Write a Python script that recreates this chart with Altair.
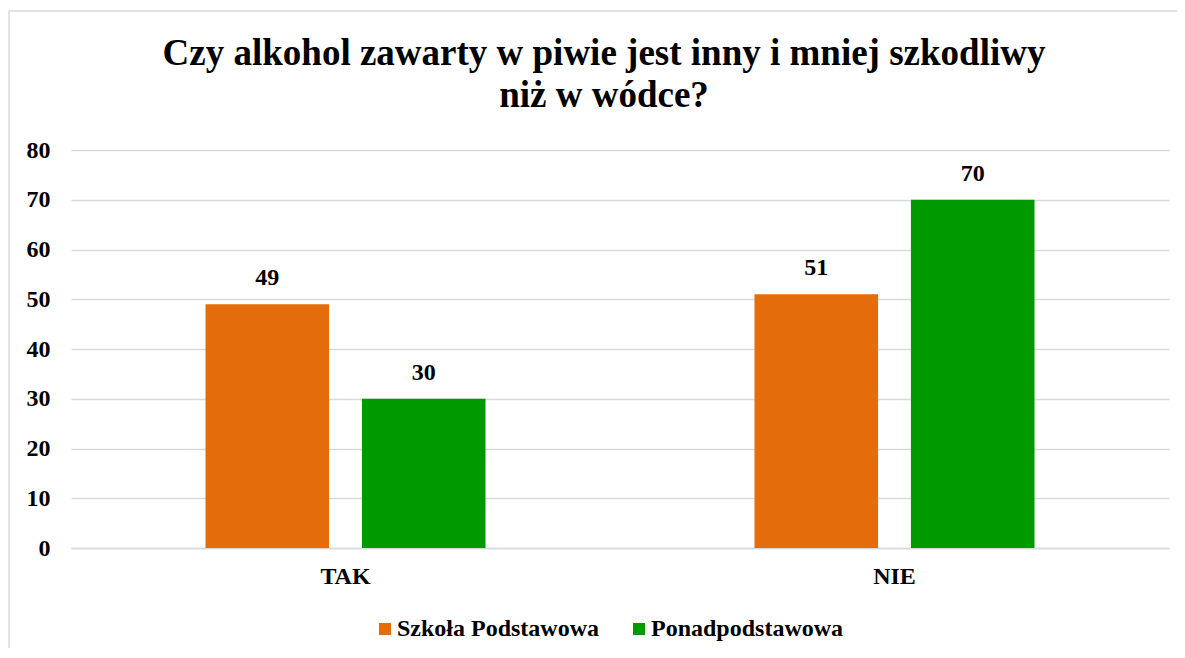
import altair as alt
import pandas as pd

categories = ["TAK", "NIE"]
series = ["Szkoła Podstawowa", "Ponadpodstawowa"]
values_sp = [49, 51]
values_pp = [30, 70]
colors = ["#E46C0A", "#009900"]
y_ticks = [0, 10, 20, 30, 40, 50, 60, 70, 80]
title_lines = ["Czy alkohol zawarty w piwie jest inny i mniej szkodliwy", "niż w wódce?"]

rows = []
for i, c in enumerate(categories):
    rows.append({"odp": c, "grupa": series[0], "wartosc": values_sp[i]})
    rows.append({"odp": c, "grupa": series[1], "wartosc": values_pp[i]})
df = pd.DataFrame(rows)

FONT = "Liberation Serif"
GRID = "#d9d9d9"
FS = 24

x_enc = alt.X(
    "odp:N",
    sort=categories,
    title=None,
    scale=alt.Scale(paddingInner=0.49, paddingOuter=0.245),
    axis=alt.Axis(
        labelAngle=0,
        labelFont=FONT,
        labelFontSize=FS,
        labelFontWeight="bold",
        labelColor="black",
        labelPadding=16,
        ticks=False,
        domainColor=GRID,
        domainWidth=1.5,
    ),
)
xoff_enc = alt.XOffset(
    "grupa:N", sort=series, scale=alt.Scale(paddingInner=0.21, paddingOuter=0)
)
y_enc = alt.Y(
    "wartosc:Q",
    title=None,
    scale=alt.Scale(domain=[0, 80], nice=False),
    axis=alt.Axis(
        values=y_ticks,
        labelFont=FONT,
        labelFontSize=FS,
        labelFontWeight="bold",
        labelColor="black",
        labelPadding=21,
        ticks=False,
        domain=False,
        gridColor=GRID,
        gridWidth=1.5,
    ),
)

base = alt.Chart(df)

bars = base.mark_bar().encode(
    x=x_enc,
    xOffset=xoff_enc,
    y=y_enc,
    color=alt.Color(
        "grupa:N",
        sort=series,
        scale=alt.Scale(domain=series, range=colors),
        legend=alt.Legend(
            title=None,
            orient="none",
            legendX=302,
            legendY=467,
            direction="horizontal",
            symbolType="square",
            symbolSize=144,
            symbolStrokeWidth=0,
            labelFont=FONT,
            labelFontSize=FS,
            labelFontWeight="bold",
            labelColor="black",
            labelOffset=0,
            labelLimit=0,
            columnPadding=27,
        ),
    ),
)

labels = base.mark_text(
    font=FONT, fontSize=FS, fontWeight="bold", color="black", baseline="middle", dy=-26
).encode(x=x_enc, xOffset=xoff_enc, y=y_enc, text=alt.Text("wartosc:Q"))

one = pd.DataFrame({"a": [0]})

border = alt.Chart(one).mark_rect(
    fillOpacity=0, stroke=GRID, strokeWidth=1.5
).encode(
    x=alt.value(-62), x2=alt.value(1140), y=alt.value(-139), y2=alt.value(530)
)

title1 = alt.Chart(one).mark_text(
    font=FONT, fontSize=37, fontWeight="bold", color="black",
    align="center", baseline="alphabetic"
).encode(x=alt.value(533), y=alt.value(-85), text=alt.value(title_lines[0]))

title2 = alt.Chart(one).mark_text(
    font=FONT, fontSize=37, fontWeight="bold", color="black",
    align="center", baseline="alphabetic"
).encode(x=alt.value(533), y=alt.value(-43), text=alt.value(title_lines[1]))

chart = (
    alt.layer(border, bars, labels, title1, title2)
    .properties(
        width=1098,
        height=398,
        autosize=alt.AutoSizeParams(type="none"),
        padding={"left": 63, "top": 142, "right": 8, "bottom": 100},
    )
    .configure_view(stroke=None)
)

chart.save("out.html", embed_options={"renderer": "svg", "actions": False})
